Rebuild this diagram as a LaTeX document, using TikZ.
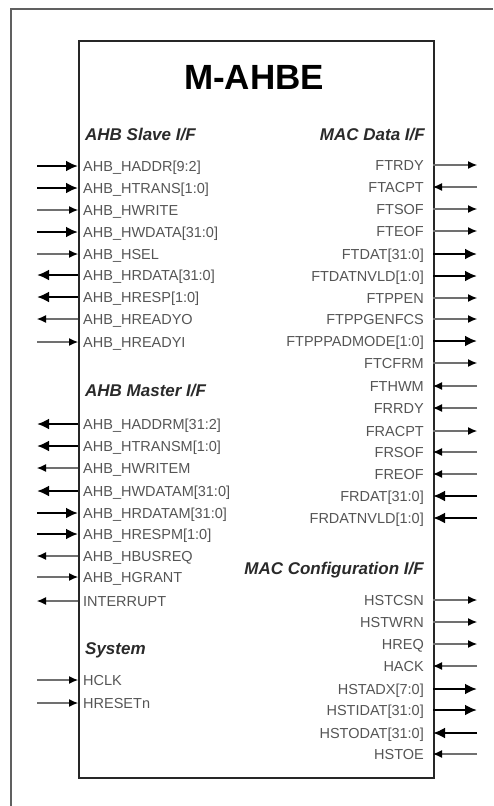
\documentclass[tikz,border=0pt]{standalone}
\usepackage{fontspec}
\setmainfont{Liberation Sans}
\usetikzlibrary{arrows.meta}
\definecolor{sigtext}{HTML}{555555}
\definecolor{headtext}{HTML}{2A2A2A}
\definecolor{thinline}{HTML}{707070}
\definecolor{frameline}{HTML}{606060}
\tikzset{
  sig/.style={font=\fontsize{14.5}{16}\selectfont, text=sigtext, inner sep=0pt},
  head/.style={font=\fontsize{17}{19}\selectfont\bfseries\itshape, text=headtext, inner sep=0pt},
  thinw/.style={draw=thinline, line width=1.1pt, -{Latex[length=9pt,width=8pt,color=black]}},
  thickw/.style={draw=black, line width=2.8pt, -{Latex[length=12pt,width=11pt]}},
}
\begin{document}
\begin{tikzpicture}[x=1pt,y=-1pt]
\useasboundingbox (0,0) rectangle (494,806);
% outer frame (cropped: top and left only)
\draw[frameline, line width=1.5pt] (11,806) -- (11,9) -- (493,9);
% block
\node[draw=black!85, line width=2.2pt, minimum width=355pt, minimum height=737pt, inner sep=0pt, anchor=north west] (blk) at (78,40) {};
\node[font=\fontsize{35}{40}\selectfont\bfseries, inner sep=0pt] (title) at (254,77) {M-AHBE};
% headings
\node[head, anchor=west] (hslave) at (85,135) {AHB Slave I/F};
\node[head, anchor=west] (hmaster) at (85,391) {AHB Master I/F};
\node[head, anchor=west] (hsys) at (85,650) {System};
\node[head, anchor=east] (hmacd) at (425,135) {MAC Data I/F};
\node[head, anchor=east] (hmacc) at (424,570) {MAC Configuration I/F};
% left signals (direction 1 = into block)
\foreach \y/\t/\d/\w [count=\i] in {
 166/AHB\_HADDR[9:2]/1/thickw,
 188/AHB\_HTRANS[1:0]/1/thickw,
 210/AHB\_HWRITE/1/thinw,
 232/AHB\_HWDATA[31:0]/1/thickw,
 254/AHB\_HSEL/1/thinw,
 275/AHB\_HRDATA[31:0]/0/thickw,
 297/AHB\_HRESP[1:0]/0/thickw,
 319/AHB\_HREADYO/0/thinw,
 342/AHB\_HREADYI/1/thinw,
 424/AHB\_HADDRM[31:2]/0/thickw,
 446/AHB\_HTRANSM[1:0]/0/thickw,
 468/AHB\_HWRITEM/0/thinw,
 491/AHB\_HWDATAM[31:0]/0/thickw,
 513/AHB\_HRDATAM[31:0]/1/thickw,
 534/AHB\_HRESPM[1:0]/1/thickw,
 556/AHB\_HBUSREQ/0/thinw,
 577/AHB\_HGRANT/1/thinw,
 601/INTERRUPT/0/thinw,
 680/HCLK/1/thinw,
 703/HRESETn/1/thinw}
{
  \node[sig, anchor=base west] (L\i) at (83,\y+5) {\t};
  \coordinate (LP\i) at (78,\y);
  \coordinate (LE\i) at (37,\y);
  \ifnum\d=1
    \draw[\w] (LE\i) -- (LP\i);
  \else
    \draw[\w] (LP\i) -- (LE\i);
  \fi
}
% right signals (direction 1 = into block)
\foreach \y/\t/\d/\w [count=\i] in {
 165/FTRDY/0/thinw,
 187/FTACPT/1/thinw,
 209/FTSOF/0/thinw,
 231/FTEOF/0/thinw,
 254/FTDAT[31:0]/0/thickw,
 276/FTDATNVLD[1:0]/0/thickw,
 298/FTPPEN/0/thinw,
 319/FTPPGENFCS/0/thinw,
 341/FTPPPADMODE[1:0]/0/thickw,
 363/FTCFRM/0/thinw,
 386/FTHWM/1/thinw,
 408/FRRDY/1/thinw,
 431/FRACPT/0/thinw,
 452/FRSOF/1/thinw,
 474/FREOF/1/thinw,
 496/FRDAT[31:0]/1/thickw,
 518/FRDATNVLD[1:0]/1/thickw,
 600/HSTCSN/0/thinw,
 622/HSTWRN/0/thinw,
 644/HREQ/0/thinw,
 666/HACK/1/thinw,
 689/HSTADX[7:0]/0/thickw,
 710/HSTIDAT[31:0]/0/thickw,
 733/HSTODAT[31:0]/1/thickw,
 754/HSTOE/1/thinw}
{
  \node[sig, anchor=base east] (R\i) at (424,\y+5) {\t};
  \coordinate (RP\i) at (433,\y);
  \coordinate (RE\i) at (477,\y);
  \ifnum\d=1
    \draw[\w] (RE\i) -- (RP\i);
  \else
    \draw[\w] (RP\i) -- (RE\i);
  \fi
}
\end{tikzpicture}
\end{document}
